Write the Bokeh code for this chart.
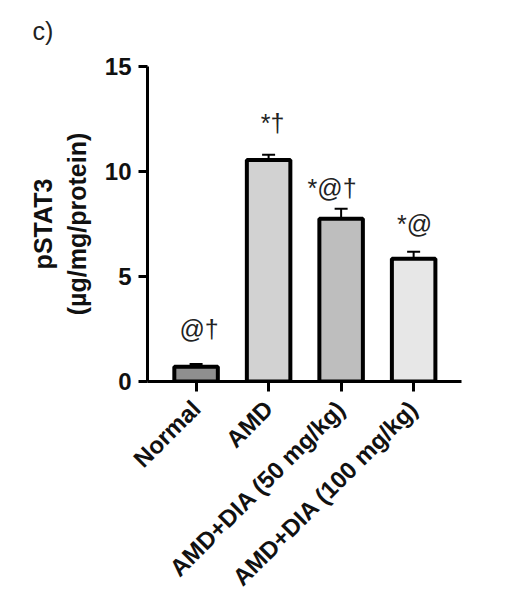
import math
from bokeh.plotting import figure
from bokeh.models import (ColumnDataSource, Range1d, FixedTicker, Whisker, TeeHead,
                          LabelSet, Title)
from bokeh.core.properties import value
from bokeh.embed import file_html
from bokeh.resources import INLINE

# ---- data ----
groups = ["Normal", "AMD", "AMD+DIA (50 mg/kg)", "AMD+DIA (100 mg/kg)"]
means = [0.70, 10.55, 7.75, 5.85]
sems = [0.13, 0.25, 0.48, 0.33]
marks = ["@\u2020", "*\u2020", "*@\u2020", "*@"]
fills = ["#8f8f8f", "#d2d2d2", "#bebebe", "#e7e7e7"]
y_ticks = [0, 5, 10, 15]

xs = list(range(len(groups)))
upper = [m + s for m, s in zip(means, sems)]
lower = [m - s for m, s in zip(means, sems)]

src = ColumnDataSource(dict(x=xs, top=means, upper=upper, lower=lower,
                            fill=fills, mark=marks,
                            dx=[3, 4, -9, 1], dy=[26, 23, 12, 19]))

FONT = "Liberation Sans"

p = figure(frame_width=314, frame_height=315,
           min_border_left=147, min_border_right=40,
           min_border_top=66, min_border_bottom=210,
           x_range=Range1d(-0.67, 3.66), y_range=Range1d(0, 15),
           output_backend="svg", toolbar_location=None,
           background_fill_color="white", border_fill_color="white")
p.outline_line_color = None
p.grid.visible = False

# white spacer title (closest to the frame), then the panel letter above it
p.add_layout(Title(text=".", text_font_size="1px", text_color="white", standoff=14), "above")
p.add_layout(Title(text="c)", align="left", offset=-115, standoff=10,
                   text_font=FONT, text_font_size="25px", text_font_style="normal",
                   text_line_height=1.0, text_color="#222222"), "above")

p.vbar(x="x", top="top", width=0.6, bottom=0, source=src,
       fill_color="fill", line_color="black", line_width=4)

w = Whisker(source=src, base="x", upper="upper", lower="lower",
            line_color="black", line_width=2,
            upper_head=TeeHead(size=13, line_width=2, line_color="black"),
            lower_head=TeeHead(size=13, line_width=2, line_color="black"))
p.add_layout(w)

labels = LabelSet(x="x", y="upper", text="mark", source=src,
                  x_offset="dx", y_offset="dy",
                  text_align="center", text_baseline="alphabetic",
                  text_font=value(FONT), text_font_size=value("25px"),
                  text_color="#222222")
p.add_layout(labels)

# y axis
ya = p.yaxis[0]
ya.ticker = FixedTicker(ticks=y_ticks)
ya.axis_label = "pSTAT3\n(\u00b5g/mg/protein)"
ya.axis_label_text_font = FONT
ya.axis_label_text_font_size = "25px"
ya.axis_label_text_font_style = "bold"
ya.axis_label_text_color = "#111111"
ya.axis_label_standoff = 11
ya.major_label_text_font = FONT
ya.major_label_text_font_size = "24px"
ya.major_label_text_font_style = "bold"
ya.major_label_text_color = "#111111"
ya.major_label_standoff = 7
ya.axis_line_width = 3
ya.major_tick_line_width = 3
ya.major_tick_out = 9
ya.major_tick_in = 0
ya.minor_tick_line_color = None

# x axis
xa = p.xaxis[0]
xa.ticker = FixedTicker(ticks=xs)
xa.major_label_overrides = {i: g for i, g in zip(xs, groups)}
xa.major_label_orientation = math.pi / 4
xa.major_label_text_font = FONT
xa.major_label_text_font_size = "24px"
xa.major_label_text_font_style = "bold"
xa.major_label_text_color = "#111111"
xa.major_label_standoff = 13
xa.axis_line_width = 3
xa.major_tick_line_width = 3
xa.major_tick_out = 10
xa.major_tick_in = 0
xa.minor_tick_line_color = None

open("out.html", "w").write(file_html(p, INLINE))
